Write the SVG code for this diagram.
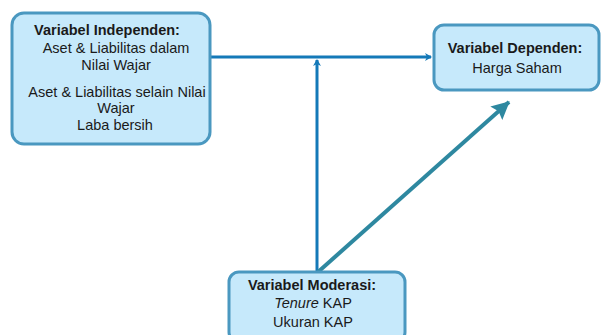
<svg xmlns="http://www.w3.org/2000/svg" width="601" height="335" viewBox="0 0 601 335">
<style>
.box{fill:#c6e9fb;stroke:#4a98c0;stroke-width:3}
text{font-family:"Liberation Sans",Arial,sans-serif;font-size:14.5px;fill:#1a1a1a;text-anchor:middle}
.b{font-weight:bold}
.blue{stroke:#1479b8;stroke-width:3;fill:none}
.teal{stroke:#2e88a0;stroke-width:4;fill:none}
</style>
<defs>
<marker id="ab" markerWidth="8" markerHeight="8" refX="6" refY="4" orient="auto" markerUnits="userSpaceOnUse">
<path d="M0,0 L7,4 L0,8 L2,4 Z" fill="#1479b8"/>
</marker>
<marker id="at" markerWidth="20" markerHeight="20" refX="17" refY="10" orient="auto" markerUnits="userSpaceOnUse">
<path d="M0,1 L18,10 L0,19 L3,10 Z" fill="#2e88a0"/>
</marker>
</defs>
<g id="connectors">
<line class="blue" x1="211" y1="57" x2="431" y2="57" marker-end="url(#ab)"/>
<line class="blue" x1="317" y1="272" x2="317" y2="60" marker-end="url(#ab)"/>
<line class="teal" x1="318" y1="272" x2="509" y2="102" marker-end="url(#at)"/>
</g>
<g id="independen">
<rect class="box" x="12" y="13" width="198" height="131" rx="12"/>
<text class="b" x="107" y="35">Variabel Independen:</text>
<text x="116" y="53">Aset &amp; Liabilitas dalam</text>
<text x="116" y="70">Nilai Wajar</text>
<text x="117" y="97">Aset &amp; Liabilitas selain Nilai</text>
<text x="116" y="113">Wajar</text>
<text x="115" y="130">Laba bersih</text>
</g>
<g id="dependen">
<rect class="box" x="434" y="25" width="165" height="65" rx="10"/>
<text class="b" x="515" y="53">Variabel Dependen:</text>
<text x="517" y="73">Harga Saham</text>
</g>
<g id="moderasi">
<rect class="box" x="229" y="272" width="176" height="70" rx="10"/>
<text class="b" x="312" y="290">Variabel Moderasi:</text>
<text x="313" y="308"><tspan font-style="italic">Tenure</tspan> KAP</text>
<text x="313" y="327">Ukuran KAP</text>
</g>
</svg>
